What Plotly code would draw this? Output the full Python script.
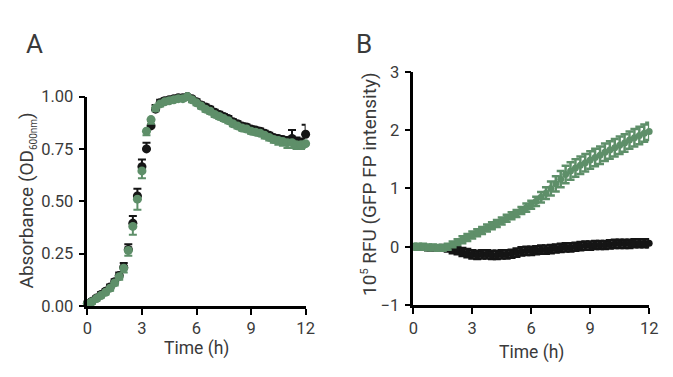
import plotly.graph_objects as go

# ---------------- data ----------------
time_h = [0, 0.25, 0.5, 0.75, 1.0, 1.25, 1.5, 1.75, 2.0, 2.25, 2.5, 2.75, 3.0, 3.25, 3.5, 3.75,
          4.0, 4.25, 4.5, 4.75, 5.0, 5.25, 5.5, 5.75, 6.0, 6.25, 6.5, 6.75, 7.0, 7.25, 7.5, 7.75,
          8.0, 8.25, 8.5, 8.75, 9.0, 9.25, 9.5, 9.75, 10.0, 10.25, 10.5, 10.75, 11.0, 11.25, 11.5,
          11.75, 12.0, 12.25]

# Panel A: absorbance OD600
od_black = [0.012, 0.022, 0.038, 0.055, 0.07, 0.09, 0.115, 0.145, 0.185, 0.27, 0.395, 0.525,
            0.665, 0.75, 0.86, 0.94, 0.97, 0.98, 0.985, 0.99, 0.995, 0.995, 1.0, 0.99, 0.975,
            0.96, 0.95, 0.94, 0.925, 0.915, 0.905, 0.895, 0.88, 0.87, 0.86, 0.855, 0.845, 0.84,
            0.835, 0.825, 0.815, 0.805, 0.8, 0.795, 0.79, 0.80, 0.785, 0.78, 0.82, 0.79]
od_black_err = [0.01, 0.01, 0.01, 0.01, 0.01, 0.012, 0.012, 0.015, 0.02, 0.025, 0.035, 0.035,
                0.035, 0.03, 0.025, 0.02, 0.015, 0.012, 0.01, 0.01, 0.01, 0.01, 0.01, 0.012,
                0.012, 0.012, 0.012, 0.012, 0.012, 0.012, 0.012, 0.012, 0.012, 0.012, 0.012,
                0.012, 0.012, 0.012, 0.012, 0.012, 0.012, 0.012, 0.012, 0.012, 0.015, 0.04,
                0.02, 0.02, 0.045, 0.03]
od_green = [0.01, 0.02, 0.035, 0.05, 0.065, 0.085, 0.11, 0.14, 0.18, 0.265, 0.38, 0.51, 0.645,
            0.835, 0.89, 0.945, 0.965, 0.975, 0.98, 0.985, 0.99, 0.99, 1.0, 0.985, 0.97, 0.955,
            0.94, 0.93, 0.915, 0.905, 0.895, 0.885, 0.87, 0.86, 0.85, 0.845, 0.835, 0.83, 0.825,
            0.815, 0.805, 0.795, 0.79, 0.785, 0.78, 0.78, 0.77, 0.77, 0.775, 0.78]
od_green_err = [0.01, 0.01, 0.01, 0.01, 0.01, 0.012, 0.012, 0.015, 0.02, 0.025, 0.04, 0.05,
                0.035, 0.02, 0.02, 0.015, 0.012, 0.01, 0.01, 0.01, 0.01, 0.01, 0.01, 0.012,
                0.012, 0.012, 0.012, 0.012, 0.012, 0.012, 0.012, 0.012, 0.012, 0.012, 0.012,
                0.012, 0.012, 0.012, 0.012, 0.015, 0.015, 0.015, 0.02, 0.02, 0.025, 0.025,
                0.02, 0.02, 0.02, 0.02]

# Panel B: 10^5 RFU (GFP FP intensity)
rfu_black = [0.0, -0.01, -0.01, -0.02, -0.02, -0.02, -0.02, -0.03, -0.05, -0.07, -0.09, -0.11,
             -0.13, -0.14, -0.13, -0.13, -0.14, -0.14, -0.13, -0.13, -0.12, -0.10, -0.08,
             -0.07, -0.07, -0.06, -0.05, -0.05, -0.04, -0.03, -0.02, -0.01, -0.01, 0.0, 0.01,
             0.02, 0.02, 0.03, 0.03, 0.03, 0.04, 0.05, 0.05, 0.05, 0.05, 0.06, 0.06, 0.06,
             0.06, 0.06]
rfu_black_err = [0.04, 0.04, 0.04, 0.04, 0.04, 0.04, 0.05, 0.05, 0.06, 0.06, 0.07, 0.07, 0.07,
                 0.07, 0.07, 0.07, 0.07, 0.07, 0.07, 0.07, 0.07, 0.07, 0.07, 0.07, 0.07, 0.07,
                 0.07, 0.07, 0.07, 0.07, 0.07, 0.07, 0.07, 0.07, 0.07, 0.07, 0.07, 0.07, 0.07,
                 0.07, 0.07, 0.07, 0.07, 0.07, 0.07, 0.07, 0.07, 0.07, 0.07, 0.07]
rfu_green = [0.0, 0.0, 0.0, -0.01, -0.01, -0.02, -0.02, 0.0, 0.04, 0.08, 0.12, 0.16, 0.20,
             0.24, 0.28, 0.32, 0.36, 0.40, 0.44, 0.49, 0.53, 0.57, 0.62, 0.67, 0.72, 0.78,
             0.85, 0.92, 1.00, 1.08, 1.16, 1.24, 1.30, 1.35, 1.40, 1.44, 1.49, 1.53, 1.57,
             1.62, 1.66, 1.70, 1.74, 1.78, 1.83, 1.87, 1.91, 1.95, 1.98, 1.99]
rfu_green_err = [0.05, 0.05, 0.05, 0.05, 0.05, 0.05, 0.05, 0.05, 0.05, 0.05, 0.06, 0.06, 0.06,
                 0.06, 0.06, 0.06, 0.06, 0.06, 0.06, 0.06, 0.06, 0.06, 0.06, 0.07, 0.07, 0.08,
                 0.09, 0.1, 0.12, 0.13, 0.14, 0.15, 0.15, 0.15, 0.15, 0.15, 0.15, 0.15, 0.15,
                 0.15, 0.15, 0.15, 0.15, 0.15, 0.15, 0.15, 0.15, 0.15, 0.15, 0.15]

x_ticks = [0, 3, 6, 9, 12]
a_y_ticks = [0.0, 0.25, 0.5, 0.75, 1.0]
a_y_labels = ["0.00", "0.25", "0.50", "0.75", "1.00"]
b_y_ticks = [-1, 0, 1, 2, 3]

GREEN = "#5e8f69"
BLACK = "#151515"
TXT = "#3a3a3a"
FONT = "Roboto"

# The page body keeps the browser's default 8 px margin, so the figure is 16 px smaller
# than the window and all positions are offset by 8 px.
PAGE_MARGIN = 8
W, H = 673 - 2 * PAGE_MARGIN, 377 - 2 * PAGE_MARGIN


def xp(px):
    return (px - PAGE_MARGIN) / W


def yp(py):
    return 1 - (py - PAGE_MARGIN) / H


fig = go.Figure()

# Panel A
fig.add_trace(go.Scatter(
    x=time_h, y=od_black, mode="markers", xaxis="x", yaxis="y", cliponaxis=False,
    marker=dict(color=BLACK, size=9),
    error_y=dict(type="data", symmetric=False, array=od_black_err,
                 arrayminus=[0] * len(od_black_err), color=BLACK, thickness=2, width=4)))
fig.add_trace(go.Scatter(
    x=time_h, y=od_green, mode="markers", xaxis="x", yaxis="y", cliponaxis=False,
    marker=dict(color=GREEN, size=9),
    error_y=dict(type="data", symmetric=False, array=[0] * len(od_green_err),
                 arrayminus=od_green_err, color=GREEN, thickness=2, width=4)))

# Panel B
fig.add_trace(go.Scatter(
    x=time_h, y=rfu_black, mode="markers", xaxis="x2", yaxis="y2", cliponaxis=False,
    marker=dict(color=BLACK, size=7),
    error_y=dict(type="data", array=rfu_black_err, color=BLACK, thickness=2.5, width=4)))
fig.add_trace(go.Scatter(
    x=time_h, y=rfu_green, mode="markers", xaxis="x2", yaxis="y2", cliponaxis=False,
    marker=dict(color=GREEN, size=7),
    error_y=dict(type="data", array=rfu_green_err, color=GREEN, thickness=2.5, width=4)))

ax_common = dict(showgrid=False, zeroline=False, showline=True, linecolor="black", linewidth=2.5,
                 ticks="outside", ticklen=6, tickwidth=2, tickcolor="black",
                 tickfont=dict(family=FONT, size=16.5, color=TXT))

fig.update_layout(
    width=W, height=H, margin=dict(l=0, r=0, t=0, b=0),
    paper_bgcolor="white", plot_bgcolor="white", showlegend=False,
    font=dict(family=FONT, color=TXT),
    xaxis=dict(domain=[xp(84), xp(307)], range=[0, 12], tickvals=x_ticks, anchor="y",
               ticklabelstandoff=0, **ax_common),
    yaxis=dict(domain=[yp(313), yp(92)], range=[0, 1.0], tickvals=a_y_ticks,
               ticktext=a_y_labels, anchor="x", ticklabelstandoff=2, **ax_common),
    xaxis2=dict(domain=[xp(417), xp(658)], range=[0, 12], tickvals=x_ticks, anchor="y2",
                ticklabelstandoff=0, **ax_common),
    yaxis2=dict(domain=[yp(312), yp(66)], range=[-1, 3], tickvals=b_y_ticks,
                anchor="x2", ticklabelstandoff=2, **ax_common),
    annotations=[
        dict(text="A", x=xp(30), y=yp(36), xref="paper", yref="paper", showarrow=False,
             font=dict(family=FONT, size=26, color=TXT), xanchor="center", yanchor="middle"),
        dict(text="B", x=xp(367), y=yp(37), xref="paper", yref="paper", showarrow=False,
             font=dict(family=FONT, size=26, color=TXT), xanchor="center", yanchor="middle"),
        dict(text="Time (h)", x=xp((84 + 307) / 2), y=yp(358), xref="paper", yref="paper",
             showarrow=False, font=dict(family=FONT, size=17.5, color=TXT),
             xanchor="center", yanchor="middle"),
        dict(text="Time (h)", x=xp((417 + 658) / 2), y=yp(362), xref="paper", yref="paper",
             showarrow=False, font=dict(family=FONT, size=17.5, color=TXT),
             xanchor="center", yanchor="middle"),
        dict(text="Absorbance (OD<sub><span style='font-size:10px'>600nm</span></sub>)",
             x=xp(22), y=yp(202), xref="paper", yref="paper", showarrow=False, textangle=-90,
             font=dict(family=FONT, size=19, color=TXT), xanchor="center", yanchor="middle"),
        dict(text="10<sup><span style='font-size:11px'>5</span></sup> RFU (GFP FP intensity)",
             x=xp(372), y=yp(184), xref="paper", yref="paper", showarrow=False, textangle=-90,
             font=dict(family=FONT, size=19, color=TXT), xanchor="center", yanchor="middle"),
    ],
)

fig.write_html("out.html", config={"displayModeBar": False})
